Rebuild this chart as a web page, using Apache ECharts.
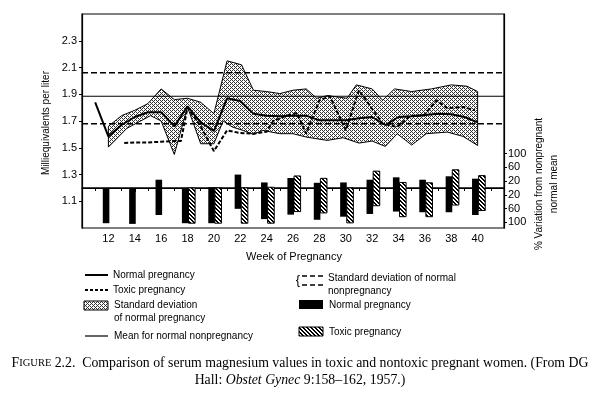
<!DOCTYPE html>
<html><head><meta charset="utf-8">
<script src="https://cdn.jsdelivr.net/npm/echarts@6/dist/echarts.min.js"></script>
<style>html,body{margin:0;padding:0;background:#fff}#c{width:600px;height:393px}</style>
</head><body><div id="c"></div>
<script>
// ---- data ----
const normalWeeks = [11,12,13,14,15,16,17,18,19,20,21,22,23,24,25,26,27,28,29,30,31,32,33,34,35,36,37,38,39,40];
const normalMean  = [1.84,1.585,1.67,1.73,1.765,1.765,1.66,1.81,1.69,1.625,1.87,1.85,1.755,1.74,1.735,1.74,1.74,1.705,1.705,1.705,1.72,1.73,1.67,1.73,1.735,1.745,1.755,1.75,1.73,1.69];

const toxicWeeks = [13.2,14,15,16,17,17.5,18,19,20,21,22,23,24,24.5,25.5,26.3,27,28,28.8,30,31,32.8,33.9,34.9,35.9,36.9,37.7,38.9,39.8];
const toxicMean  = [1.535,1.54,1.54,1.545,1.55,1.55,1.80,1.66,1.475,1.63,1.61,1.605,1.62,1.70,1.74,1.76,1.605,1.855,1.885,1.63,1.93,1.68,1.655,1.74,1.74,1.855,1.795,1.805,1.78];

const sdUpperWeeks = [12,13,14,15,16,17,18,19,20,21,22.1,23,24,25,26,27,27.8,28.6,30.1,30.8,32,32.8,33.7,35,36.5,38,39.2,40];
const sdUpper      = [1.66,1.74,1.78,1.83,1.94,1.86,1.87,1.84,1.755,2.15,2.12,1.93,1.92,1.905,1.93,1.94,1.87,1.89,1.87,1.97,1.94,1.855,1.94,1.92,1.94,1.97,1.96,1.92];
const sdLowerWeeks = [12,13.4,15.2,16,17,18,19,20,20.7,21.4,22.2,23,23.7,25,26,27,28.6,29.8,31,32,33,33.9,35,36.1,37.7,38.9,40];
const sdLower      = [1.505,1.645,1.74,1.70,1.45,1.805,1.53,1.53,1.70,1.655,1.63,1.60,1.63,1.605,1.605,1.58,1.555,1.575,1.535,1.55,1.51,1.605,1.52,1.605,1.617,1.585,1.517];

const nonpregMean = 1.885;
const nonpregSD = [2.06, 1.68];
const barBaseline = 1.2;

// % variation from nonpregnant normal mean (bars)
const barWeeks   = [12,14,16,18,20,22,24,26,28,30,32,34,36,38,40];
const normalHigh = [0,0,24,0,2,39,16,29,15,16,24,31,24,34,27];
const normalLow  = [-103,-105,-79,-103,-103,-61,-91,-78,-93,-84,-76,-69,-71,-71,-79];
const toxicHigh  = [null,null,null,0,0,0,2,35,28,0,49,16,15,53,36];
const toxicLow   = [null,null,null,-103,-103,-103,-103,-69,-73,-102,-52,-84,-84,-50,-66];

const leftTicks  = [1.1,1.3,1.5,1.7,1.9,2.1,2.3];
const rightTicks = [-100,-60,-20,20,60,100];

// ---- patterns ----
function stipple(){
  const c=document.createElement('canvas'); c.width=4; c.height=4;
  const g=c.getContext('2d'); g.fillStyle='#fff'; g.fillRect(0,0,4,4);
  g.fillStyle='#333';
  [[0,0],[2,0],[1,1],[0,2],[2,2],[3,3]].forEach(p=>g.fillRect(p[0],p[1],1,1));
  return {image:c, repeat:'repeat'};
}
function hatch(){
  const c=document.createElement('canvas'); c.width=4; c.height=4;
  const g=c.getContext('2d'); g.fillStyle='#fff'; g.fillRect(0,0,4,4);
  g.fillStyle='#000';
  for(let i=0;i<4;i++){ g.fillRect(i,i,1,1); g.fillRect(i,(i+1)%4,1,1); }
  return {image:c, repeat:'repeat'};
}
const STIP = stipple(), HATCH = hatch();
const SANS = '"Liberation Sans", Arial, sans-serif';
const SERIF = '"Liberation Serif", "Times New Roman", serif';

const normBars = barWeeks.map((w,i)=>[w, normalLow[i], normalHigh[i]]);
const toxBars = barWeeks.map((w,i)=>[w, toxicLow[i], toxicHigh[i]]).filter(d=>d[1]!==null);

function hline(v, style){
  return {type:'line', data:[[10,v],[42,v]], symbol:'none', silent:true, z:4,
          lineStyle:Object.assign({color:'#000', width:1}, style), animation:false};
}

const chart = echarts.init(document.getElementById('c'), null, {renderer:'canvas'});
chart.setOption({
  animation:false,
  textStyle:{fontFamily:SANS},
  grid:{left:82, right:96, top:14, bottom:165, show:true, borderColor:'#000', borderWidth:1.2, backgroundColor:'transparent'},
  xAxis:{type:'value', min:10, max:42, interval:2,
    axisLine:{lineStyle:{color:'#000', width:1.2}},
    axisTick:{length:4, lineStyle:{color:'#000'}},
    minorTick:{show:true, splitNumber:2, length:3, lineStyle:{color:'#000'}},
    splitLine:{show:false}, minorSplitLine:{show:false},
    axisLabel:{formatter:v=>(v>=12&&v<=40)?String(v):'', color:'#000', fontSize:11, margin:5, fontFamily:SANS}},
  yAxis:[
    {type:'value', min:0.9, max:2.5, position:'left',
     axisLine:{show:true, lineStyle:{color:'#000', width:1.2}},
     axisTick:{show:true, customValues:leftTicks, length:3, lineStyle:{color:'#000'}},
     axisLabel:{customValues:leftTicks, formatter:v=>v.toFixed(1), color:'#000', fontSize:11, margin:5, fontFamily:SANS},
     splitLine:{show:false}},
    {type:'value', min:-117, max:508, position:'right',
     axisLine:{show:true, lineStyle:{color:'#000', width:1.2}},
     axisTick:{show:true, customValues:rightTicks, length:3, lineStyle:{color:'#000'}},
     axisLabel:{customValues:rightTicks, formatter:v=>String(Math.abs(v)), color:'#000', fontSize:11, margin:4, fontFamily:SANS},
     splitLine:{show:false}}
  ],
  series:[
    {type:'custom', yAxisIndex:0, z:2, silent:true, data:[[12,1.5]],
     renderItem:(p,api)=>{
       const up = sdUpperWeeks.map((w,i)=>api.coord([w,sdUpper[i]]));
       const lo = sdLowerWeeks.map((w,i)=>api.coord([w,sdLower[i]])).reverse();
       return {type:'polygon', shape:{points:up.concat(lo)}, style:{fill:STIP, stroke:'#000', lineWidth:1}};
     }},
    hline(nonpregMean, {width:1.2}),
    hline(nonpregSD[0], {width:1.5, type:[6,3]}),
    hline(nonpregSD[1], {width:1.5, type:[6,3]}),
    hline(barBaseline, {width:1.2}),
    {type:'line', name:'Normal pregnancy', data:normalWeeks.map((w,i)=>[w,normalMean[i]]), symbol:'none', z:5,
     lineStyle:{color:'#000', width:2}},
    {type:'line', name:'Toxic pregnancy', data:toxicWeeks.map((w,i)=>[w,toxicMean[i]]), symbol:'none', z:5,
     lineStyle:{color:'#000', width:2, type:[4,2]}},
    {type:'custom', yAxisIndex:1, z:6, data:normBars, encode:{x:0, y:[1,2]},
     renderItem:(p,api)=>{
       const w=api.value(0), a=api.coord([w,api.value(2)]), b=api.coord([w,api.value(1)]);
       const bw=api.size([1,0])[0]*0.5;
       return {type:'rect', shape:{x:a[0]-bw+1, y:a[1], width:bw, height:b[1]-a[1]}, style:{fill:'#000'}};
     }},
    {type:'custom', yAxisIndex:1, z:6, data:toxBars, encode:{x:0, y:[1,2]},
     renderItem:(p,api)=>{
       const w=api.value(0), a=api.coord([w,api.value(2)]), b=api.coord([w,api.value(1)]);
       const bw=api.size([1,0])[0]*0.5;
       return {type:'rect', shape:{x:a[0]+1, y:a[1], width:bw, height:b[1]-a[1]}, style:{fill:HATCH, stroke:'#000', lineWidth:1}};
     }}
  ],
  graphic:[
    {type:'text', x:46, y:123, rotation:Math.PI/2, style:{text:'Milliequivalents per liter', font:'10px '+SANS, fill:'#000', align:'center', verticalAlign:'middle'}},
    {type:'text', x:547, y:184, rotation:Math.PI/2, style:{text:'% Variation from nonpregnant\nnormal mean', font:'10px '+SANS, fill:'#000', align:'center', verticalAlign:'middle', lineHeight:15}},
    {type:'text', x:294, y:257, style:{text:'Week of Pregnancy', font:'11px '+SANS, fill:'#000', align:'center', verticalAlign:'middle'}},
    // legend left column
    {type:'line', shape:{x1:85,y1:275,x2:108,y2:275}, style:{stroke:'#000', lineWidth:2}},
    {type:'text', x:113, y:275, style:{text:'Normal pregnancy', font:'10px '+SANS, fill:'#000', verticalAlign:'middle'}},
    {type:'line', shape:{x1:85,y1:290,x2:108,y2:290}, style:{stroke:'#000', lineWidth:2, lineDash:[3,2]}},
    {type:'text', x:113, y:290, style:{text:'Toxic pregnancy', font:'10px '+SANS, fill:'#000', verticalAlign:'middle'}},
    {type:'rect', shape:{x:84,y:301,width:24,height:9}, style:{fill:STIP, stroke:'#000', lineWidth:1}},
    {type:'text', x:114, y:305, style:{text:'Standard deviation', font:'10px '+SANS, fill:'#000', verticalAlign:'middle'}},
    {type:'text', x:114, y:318, style:{text:'of normal pregnancy', font:'10px '+SANS, fill:'#000', verticalAlign:'middle'}},
    {type:'line', shape:{x1:85,y1:336,x2:108,y2:336}, style:{stroke:'#000', lineWidth:1.2}},
    {type:'text', x:114, y:336, style:{text:'Mean for normal nonpregnancy', font:'10px '+SANS, fill:'#000', verticalAlign:'middle'}},
    // legend right column
    {type:'text', x:298, y:280, style:{text:'{', font:'13px '+SANS, fill:'#000', align:'center', verticalAlign:'middle'}},
    {type:'line', shape:{x1:302,y1:276,x2:323,y2:276}, style:{stroke:'#000', lineWidth:1.5, lineDash:[5,3]}},
    {type:'line', shape:{x1:302,y1:285,x2:323,y2:285}, style:{stroke:'#000', lineWidth:1.5, lineDash:[5,3]}},
    {type:'text', x:328, y:278, style:{text:'Standard deviation of normal', font:'10px '+SANS, fill:'#000', verticalAlign:'middle'}},
    {type:'text', x:328, y:291, style:{text:'nonpregnancy', font:'10px '+SANS, fill:'#000', verticalAlign:'middle'}},
    {type:'rect', shape:{x:299,y:300,width:24,height:9}, style:{fill:'#000'}},
    {type:'text', x:329, y:305, style:{text:'Normal pregnancy', font:'10px '+SANS, fill:'#000', verticalAlign:'middle'}},
    {type:'rect', shape:{x:299,y:327,width:24,height:9}, style:{fill:HATCH, stroke:'#000', lineWidth:1}},
    {type:'text', x:329, y:332, style:{text:'Toxic pregnancy', font:'10px '+SANS, fill:'#000', verticalAlign:'middle'}},
    // caption
    {type:'text', x:300, y:363, style:{
      text:'{s|F}{c|IGURE} {s|2.2.  Comparison of serum magnesium values in toxic and nontoxic pregnant women. (From DG}',
      align:'center', verticalAlign:'middle', fill:'#000',
      rich:{s:{font:'13.8px '+SERIF, fill:'#000'}, c:{font:'10.5px '+SERIF, fill:'#000'}}}},
    {type:'text', x:300, y:380, style:{
      text:'{s|Hall: }{i|Obstet Gynec}{s| 9:158–162, 1957.)}',
      align:'center', verticalAlign:'middle', fill:'#000',
      rich:{s:{font:'13.8px '+SERIF, fill:'#000'}, i:{font:'italic 13.8px '+SERIF, fill:'#000'}}}}
  ]
});
</script></body></html>
